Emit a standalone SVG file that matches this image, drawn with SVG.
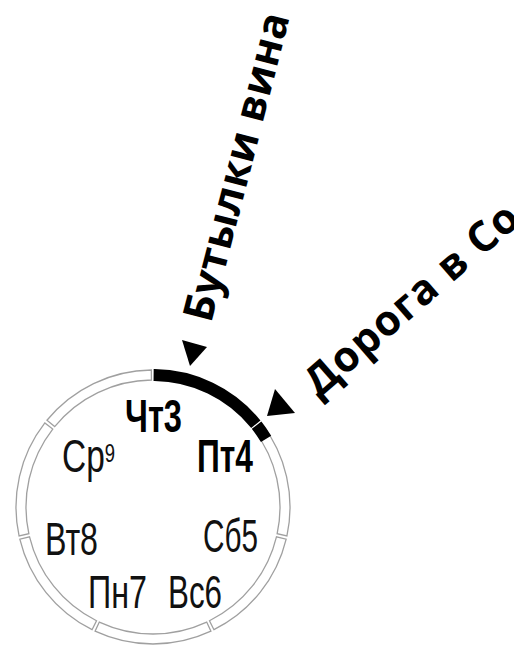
<svg xmlns="http://www.w3.org/2000/svg" width="514" height="648" viewBox="0 0 514 648">
  <style>
    .seg { fill: #ffffff; stroke: #a0a0a0; stroke-width: 1.3; }
    .fill { fill: #000000; stroke: #000000; stroke-width: 2; stroke-linejoin: miter; }
    .day { font-family: "Liberation Sans Narrow", "Liberation Sans", sans-serif; font-size: 47px; fill: #111111; }
    .bold { font-weight: 700; fill: #000000; }
    .note { font-family: "Open Sans", "Noto Sans", "DejaVu Sans", sans-serif; font-weight: 700; font-size: 42px; fill: #000000; }
    .tri { fill: #000000; }
  </style>
  <rect width="514" height="648" fill="#ffffff"/>

  <g id="ring">
    <path id="seg-thu" class="fill" d="M154.67,370.01 A137,137 0 0 1 259.06,420.28 L251.32,426.61 A127,127 0 0 0 154.55,380.01 Z"/>
    <path id="seg-fri" class="seg" d="M261.15,422.90 A137,137 0 0 1 286.93,535.86 L277.15,533.75 A127,127 0 0 0 253.26,429.04 Z"/>
    <path id="seg-fri-fill" class="fill" d="M261.15,422.90 A137,137 0 0 1 269.81,435.42 L261.29,440.64 A127,127 0 0 0 253.26,429.04 Z"/>
    <path id="seg-sat" class="seg" d="M286.18,539.12 A137,137 0 0 1 213.94,629.70 L209.49,620.74 A127,127 0 0 0 276.46,536.78 Z"/>
    <path id="seg-sun" class="seg" d="M210.92,631.15 A137,137 0 0 1 95.08,631.15 L99.31,622.09 A127,127 0 0 0 206.69,622.09 Z"/>
    <path id="seg-mon" class="seg" d="M92.06,629.70 A137,137 0 0 1 19.82,539.12 L29.54,536.78 A127,127 0 0 0 96.51,620.74 Z"/>
    <path id="seg-tue" class="seg" d="M19.07,535.86 A137,137 0 0 1 44.85,422.90 L52.74,429.04 A127,127 0 0 0 28.85,533.75 Z"/>
    <path id="seg-wed" class="seg" d="M46.94,420.28 A137,137 0 0 1 151.33,370.01 L151.45,380.01 A127,127 0 0 0 54.68,426.61 Z"/>
  </g>

  <g id="day-labels">
    <g id="thu"><text class="day bold" x="125" y="432" textLength="57" lengthAdjust="spacingAndGlyphs">Чт3</text></g>
    <g id="wed"><text class="day" x="62" y="472" textLength="53" lengthAdjust="spacingAndGlyphs">Ср<tspan font-size="26" dy="-10">9</tspan></text></g>
    <g id="fri"><text class="day bold" x="197" y="472" textLength="56" lengthAdjust="spacingAndGlyphs">Пт4</text></g>
    <g id="tue"><text class="day" x="45" y="555" textLength="53" lengthAdjust="spacingAndGlyphs">Вт8</text></g>
    <g id="sat"><text class="day" x="203" y="552" textLength="55" lengthAdjust="spacingAndGlyphs">Сб5</text></g>
    <g id="mon"><text class="day" x="88" y="608" textLength="59" lengthAdjust="spacingAndGlyphs">Пн7</text></g>
    <g id="sun"><text class="day" x="168" y="608" textLength="54" lengthAdjust="spacingAndGlyphs">Вс6</text></g>
  </g>

  <g id="annotations">
    <g id="note-wine">
      <polygon class="tri" points="190,366 182,340 207,347"/>
      <text class="note" letter-spacing="0.3" transform="translate(211,324) rotate(-75.6)">Бутылки вина</text>
    </g>
    <g id="note-road">
      <polygon class="tri" points="267,416 275,389 295,413"/>
      <text class="note" letter-spacing="1.2" transform="translate(319.0,398.7) rotate(-41)">Дорога в Со</text>
    </g>
  </g>
</svg>
